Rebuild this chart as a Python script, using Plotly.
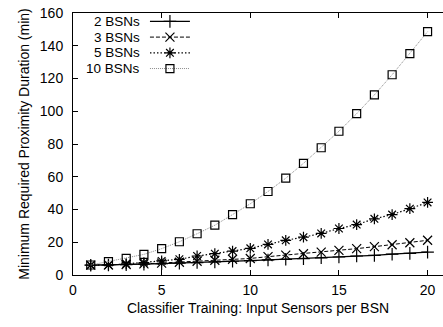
import plotly.graph_objects as go

sensors = list(range(1, 21))
bsn2 = [6.0, 6.1, 6.3, 6.6, 6.9, 7.2, 7.6, 8.0, 8.4, 8.8, 9.2, 9.6, 10.0, 10.5, 11.0, 11.6, 12.0, 12.7, 13.2, 14.0]
bsn3 = [6.0, 6.1, 6.4, 6.8, 7.3, 7.8, 8.4, 9.0, 9.6, 10.1, 11.2, 12.1, 13.0, 14.0, 15.0, 16.1, 17.3, 18.5, 19.7, 21.2]
bsn5 = [6.0, 6.1, 6.8, 7.6, 8.6, 9.6, 11.6, 13.0, 14.6, 16.3, 18.7, 21.2, 23.1, 25.4, 28.4, 30.8, 34.3, 36.9, 40.5, 44.3]
bsn10 = [6.1, 8.2, 10.2, 12.6, 16.1, 20.3, 25.2, 30.4, 36.9, 43.5, 51.0, 59.1, 68.2, 77.7, 87.8, 98.5, 110.0, 122.3, 135.2, 148.6]

names = ["2 BSNs", "3 BSNs", "5 BSNs", "10 BSNs"]
series = [bsn2, bsn3, bsn5, bsn10]

styles = [
    dict(line=dict(color="black", width=1.2, dash="solid"),
         marker=dict(symbol="cross-thin", size=9, line=dict(color="black", width=1.2))),
    dict(line=dict(color="black", width=1.0, dash="4px,2px"),
         marker=dict(symbol="x-thin", size=9, line=dict(color="black", width=1.2))),
    dict(line=dict(color="black", width=1.2, dash="1.5px,2px"),
         marker=dict(symbol="asterisk", size=9, line=dict(color="black", width=1.2))),
    dict(line=dict(color="#8a8a8a", width=1.0, dash="1px,1px"),
         marker=dict(symbol="square-open", size=8, color="black", line=dict(color="black", width=1.2))),
]

FAMILY = "Liberation Sans, Arial, sans-serif"
font = dict(family=FAMILY, size=14, color="black")
keyfont = dict(family=FAMILY, size=13.5, color="black")

fig = go.Figure()
for name, ys, st in zip(names, series, styles):
    fig.add_trace(go.Scatter(x=sensors, y=ys, mode="lines+markers", name=name,
                             line=st["line"], marker=st["marker"], showlegend=False))

# gnuplot-style key: text on the left, sample on the right (overlay axes in plot fractions)
key_text_x = 0.184
key_x0, key_xm, key_x1 = 0.208, 0.262, 0.316
key_rows = [0.968, 0.908, 0.848, 0.788]
for name, st, ky in zip(names, styles, key_rows):
    fig.add_trace(go.Scatter(x=[key_x0, key_xm, key_x1], y=[ky, ky, ky], mode="lines",
                             line=st["line"], xaxis="x2", yaxis="y2", showlegend=False,
                             hoverinfo="skip"))
    fig.add_trace(go.Scatter(x=[key_xm], y=[ky], mode="markers", marker=st["marker"],
                             xaxis="x2", yaxis="y2", showlegend=False, hoverinfo="skip"))
    fig.add_annotation(x=key_text_x, y=ky, xref="x2", yref="y2", text=name,
                       showarrow=False, xanchor="right", yanchor="middle", font=keyfont,
                       borderpad=0)

fig.update_layout(
    width=443, height=327,
    margin=dict(l=73, r=0, t=13, b=52),
    paper_bgcolor="white", plot_bgcolor="white",
    font=font,
    showlegend=False,
    xaxis=dict(range=[0, 20.87], tickmode="array", tickvals=[0, 5, 10, 15, 20],
               ticks="inside", ticklen=5, tickcolor="black", showline=True, linecolor="black",
               linewidth=1, mirror="ticks", showgrid=False, zeroline=False,
               ticklabelstandoff=2,
               title=dict(text="Classifier Training: Input Sensors per BSN", standoff=6, font=font),
               tickfont=font),
    yaxis=dict(range=[0, 160], tickmode="array", tickvals=list(range(0, 161, 20)),
               ticks="inside", ticklen=5, tickcolor="black", showline=True, linecolor="black",
               linewidth=1, mirror=False, showgrid=False, zeroline=False,
               ticklabelstandoff=6,
               title=dict(text="Minimum Required Proximity Duration (min)", standoff=6, font=font),
               tickfont=font),
    xaxis2=dict(range=[0, 1], overlaying="x", visible=False, fixedrange=True),
    yaxis2=dict(range=[0, 1], overlaying="y", visible=False, fixedrange=True),
)

fig.write_html("out.html")
